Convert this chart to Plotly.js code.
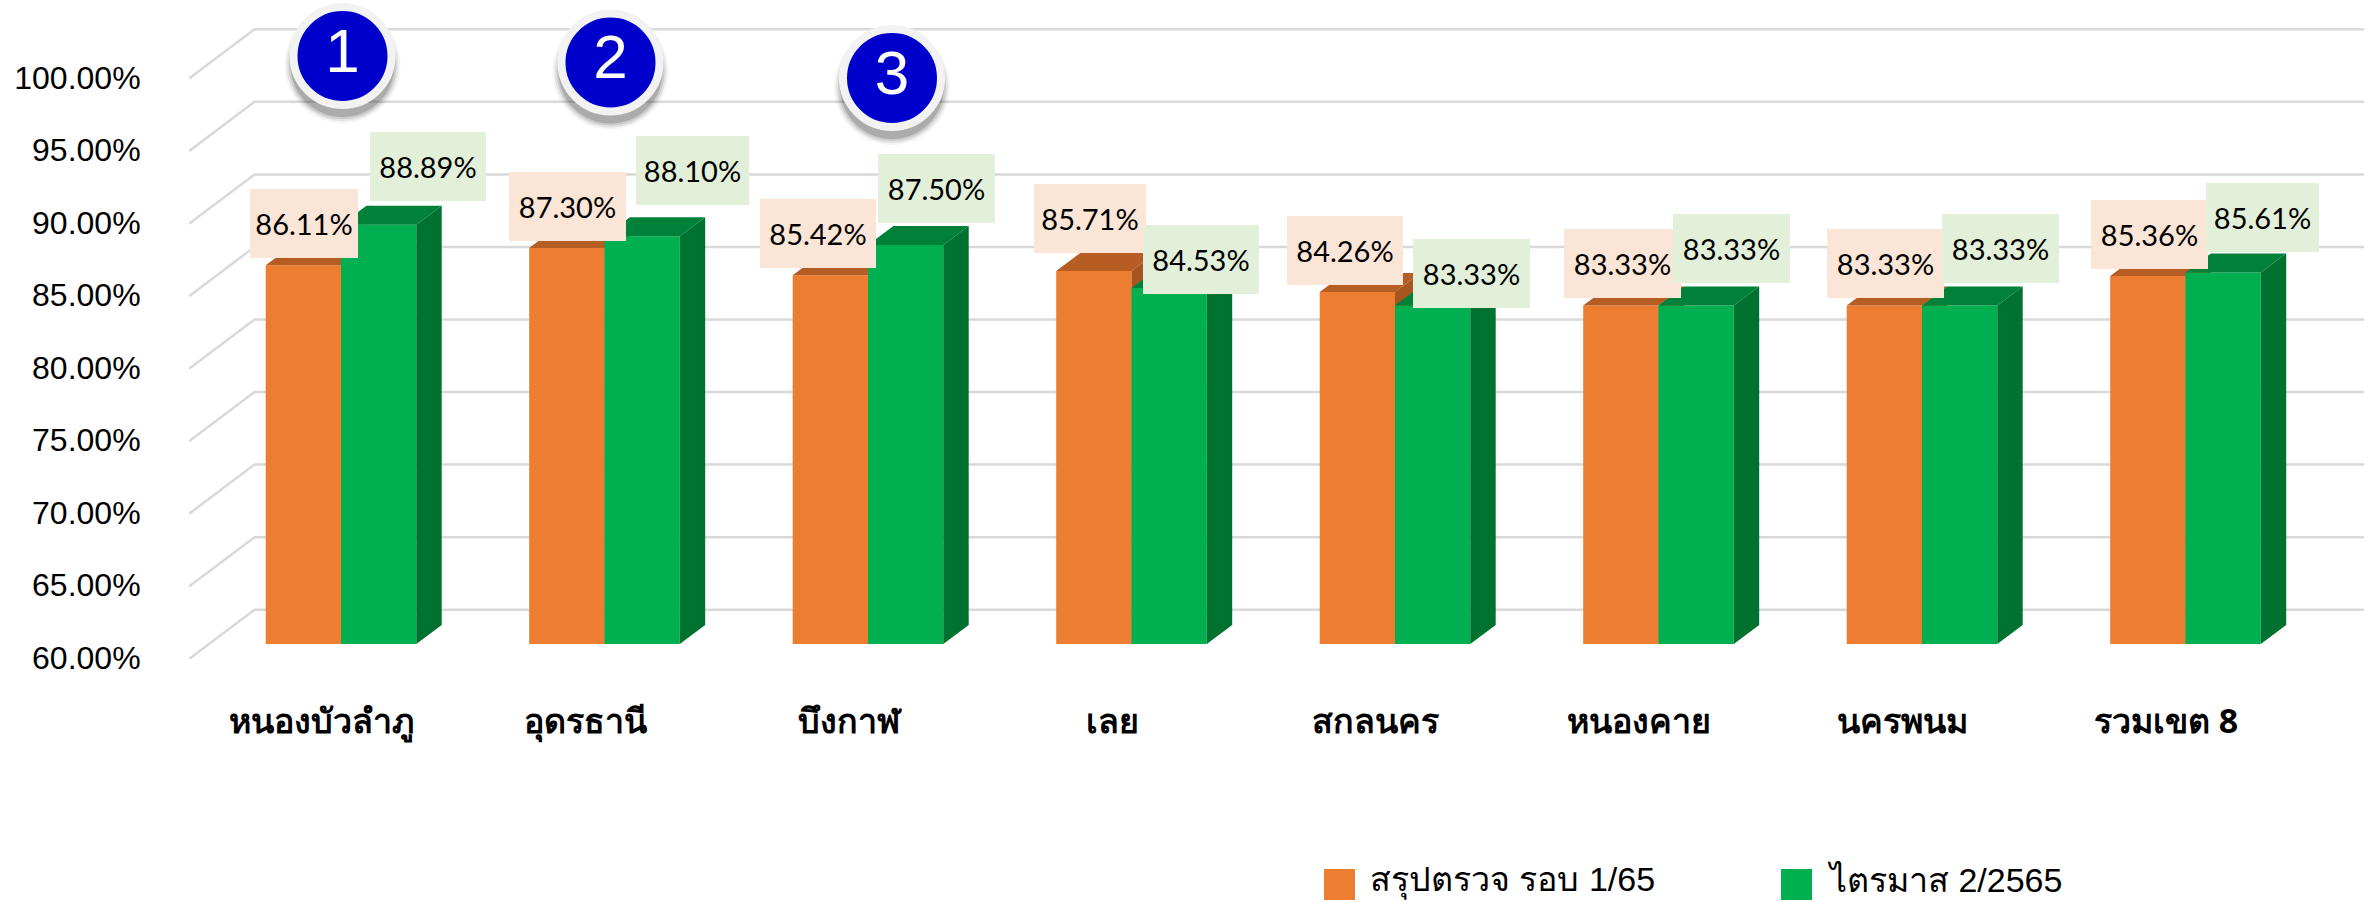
<!DOCTYPE html>
<html><head><meta charset="utf-8">
<script src="https://cdn.plot.ly/plotly-3.0.1.min.js"></script>
<style>html,body{margin:0;padding:0;background:#fff}#c{width:2377px;height:902px}</style></head>
<body><div id="c"></div>
<script>
const categories=["หนองบัวลำภู","อุดรธานี","บึงกาฬ","เลย","สกลนคร","หนองคาย","นครพนม","รวมเขต 8"];
const seriesNames=["สรุปตรวจ รอบ 1/65","ไตรมาส 2/2565"];
const round1=[86.11,87.30,85.42,85.71,84.26,83.33,83.33,85.36];
const quarter2=[88.89,88.10,87.50,84.53,83.33,83.33,83.33,85.61];
const yTicks=[60,65,70,75,80,85,90,95,100];
const yLabels=["60.00%","65.00%","70.00%","75.00%","80.00%","85.00%","90.00%","95.00%","100.00%"];
const ranks=["1","2","3"];

// label boxes, pixel placement [left,right,top,bottom]
const orangeBoxes=[[250,358,189,258],[509,626,172,241],[760,876,199,268],[1034,1146,184,253],[1287,1403,216,285],[1564,1681,229,298],[1827,1944,229,298],[2091,2208,200,269]];
const greenBoxes=[[370,486,132,201],[636,749,136,205],[878,995,154,223],[1143,1259,225,294],[1413,1530,239,308],[1673,1790,214,283],[1942,2059,214,283],[2206,2319,183,252]];
const badgeCentres=[[342.5,56],[610.5,62.5],[892,78]];

const W=2377,H=902,PX_PCT=14.51,UNIT=263.5,X0=341;
const frontY=659,barY=644;
const fx=p=>(p-X0)/UNIT;
const fy=p=>60+(frontY-p)/PX_PCT;
const xL=189,xBack=254.5,xR=2364;
const depthGrid=(frontY-609.7)/PX_PCT;
const barW=75.3/UNIT, dX=25.4/UNIT, dY=19/PX_PCT;
const topRange=60+frontY/PX_PCT;
const shift=(frontY-barY)/PX_PCT;
const C={o:'#ED7D31',oTop:'#B55D22',oSide:'#A8561F',g:'#00B050',gTop:'#008139',gSide:'#00722F'};
const FONT='"Liberation Sans",Arial,sans-serif';
const xs=categories.map((_,i)=>i);

const traces=[];
// gridlines
const gx=[],gy=[];
yTicks.forEach(v=>{gx.push(fx(xL),fx(xBack),fx(xR),null);gy.push(v,v+depthGrid,v+depthGrid,null);});
traces.push({type:'scatter',mode:'lines',x:gx,y:gy,xaxis:'x',yaxis:'y',line:{color:'#D9D9D9',width:2.5},hoverinfo:'skip',showlegend:false});

function poly(xa,ya,color,axis){
  traces.push({type:'scatter',mode:'lines',x:xa,y:ya,fill:'toself',fillcolor:color,line:{width:0,color:color},yaxis:axis,xaxis:'x',hoverinfo:'skip',showlegend:false});
}
function series(vals,name,left,front,top,side,axis){
  traces.push({type:'bar',name:name,x:xs,y:vals.map(v=>v-60),base:60,offset:left,width:barW,yaxis:axis,xaxis:'x',marker:{color:front,line:{width:0}},hoverinfo:'skip',showlegend:false});
  const tx=[],ty=[],sx=[],sy=[];
  vals.forEach((v,i)=>{
    const a=i+left,b=a+barW;
    tx.push(a,a+dX,b+dX,b,a,null);ty.push(v,v+dY,v+dY,v,v,null);
    sx.push(b,b+dX,b+dX,b,b,null);sy.push(v,v+dY,60+dY,60,v,null);
  });
  poly(tx,ty,top,axis);poly(sx,sy,side,axis);
}
series(round1,seriesNames[0],-barW,C.o,C.oTop,C.oSide,'y2');
series(quarter2,seriesNames[1],0,C.g,C.gTop,C.gSide,'y3');

// badges
const bx=badgeCentres.map(c=>fx(c[0])),by=badgeCentres.map(c=>fy(c[1])),bs=badgeCentres.map(c=>fy(c[1]+9));
[[116,.05],[112,.09],[108,.14],[104,.22]].forEach(s=>traces.push({type:'scatter',mode:'markers',x:bx,y:bs,yaxis:'y4',xaxis:'x',marker:{size:s[0],color:`rgba(60,60,60,${s[1]})`,line:{width:0}},hoverinfo:'skip',showlegend:false,cliponaxis:false}));
traces.push({type:'scatter',mode:'markers+text',x:bx,y:by,yaxis:'y4',xaxis:'x',text:ranks,textposition:'middle center',textfont:{family:FONT,size:62,color:'#fff'},marker:{size:98,color:'#0000CC',line:{width:8,color:'#F2F2F2'}},hoverinfo:'skip',showlegend:false,cliponaxis:false});

const anns=[];
function labels(vals,boxes,bg){
  vals.forEach((v,i)=>{const b=boxes[i];
    anns.push({xref:'x',yref:'y',x:fx((b[0]+b[1])/2),y:fy((b[2]+b[3])/2),xanchor:'center',yanchor:'middle',showarrow:false,text:v.toFixed(2)+'%',width:b[1]-b[0],height:b[3]-b[2],bgcolor:bg,borderpad:0,borderwidth:0,font:{family:'Lato,'+FONT,size:29,color:'#000'}});
  });
}
labels(round1,orangeBoxes,'#FBE5D6');
labels(quarter2,greenBoxes,'#E2F0D9');
// legend
const legend=[[1324,seriesNames[0],C.o],[1781,seriesNames[1],C.g]];
const shapes=[];
legend.forEach(l=>{
  shapes.push({type:'rect',xref:'paper',yref:'paper',x0:l[0]/W,x1:(l[0]+31)/W,y0:(H-900)/H,y1:(H-869)/H,fillcolor:l[2],line:{width:0}});
  anns.push({xref:'paper',yref:'paper',x:(l[0]+44)/W,y:(H-880)/H,xanchor:'left',yanchor:'middle',showarrow:false,text:l[1],font:{family:FONT,size:34,color:'#000'}});
});

const overlay=s=>({overlaying:'y',visible:false,anchor:'x',range:[60-s,topRange-s],fixedrange:true});
const layout={width:W,height:H,margin:{l:0,r:0,t:0,b:0},paper_bgcolor:'#fff',plot_bgcolor:'rgba(0,0,0,0)',showlegend:false,
  annotations:anns,shapes:shapes,
  xaxis:{domain:[xL/W,1],range:[fx(xL),fx(W)],tickmode:'array',tickvals:xs.map(i=>i-0.074),ticktext:categories,showgrid:false,zeroline:false,showline:false,ticks:'outside',ticklen:32,tickcolor:'rgba(0,0,0,0)',tickfont:{family:'"Noto Sans",'+FONT,size:34,color:'#000',weight:700},fixedrange:true},
  yaxis:{domain:[1-frontY/H,1],range:[60,topRange],tickmode:'array',tickvals:yTicks.map(v=>v+0.08),ticktext:yLabels,showgrid:false,zeroline:false,showline:false,ticks:'outside',ticklen:41,tickcolor:'rgba(0,0,0,0)',tickfont:{family:FONT,size:32,color:'#000'},fixedrange:true},
  yaxis2:overlay(shift),yaxis3:overlay(shift),yaxis4:overlay(0)
};
Plotly.newPlot('c',traces,layout,{displayModeBar:false,staticPlot:true});
</script></body></html>
